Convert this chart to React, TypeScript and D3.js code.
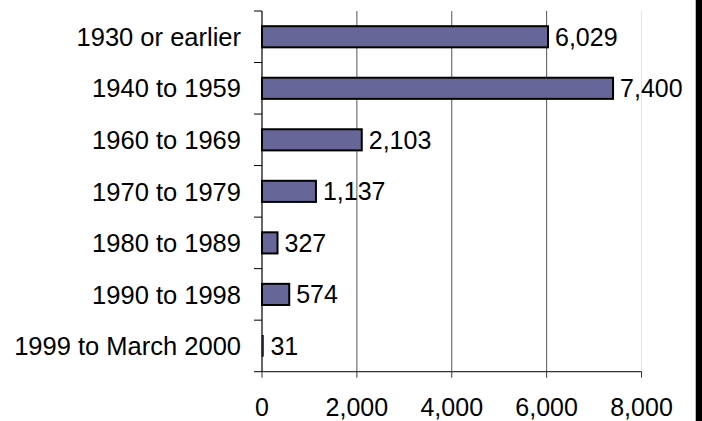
import { useEffect, useRef } from "react"
import * as d3 from "d3"

const categories = [
  "1930 or earlier",
  "1940 to 1959",
  "1960 to 1969",
  "1970 to 1979",
  "1980 to 1989",
  "1990 to 1998",
  "1999 to March 2000",
]
const values = [6029, 7400, 2103, 1137, 327, 574, 31]
const xTicks = [0, 2000, 4000, 6000, 8000]

export default function App() {
  const ref = useRef<SVGSVGElement | null>(null)

  useEffect(() => {
    document.body.style.margin = "0"
    if (!ref.current) return
    const svg = d3.select(ref.current)
    svg.selectAll("*").remove()

    const width = 702
    const height = 421
    const left = 262
    const right = 641.5
    const top = 11
    const bottom = 371.7
    const font = "'Liberation Sans', Arial, sans-serif"

    const x = d3.scaleLinear().domain([0, 8000]).range([left, right])
    const y = d3
      .scaleBand<string>()
      .domain(categories)
      .range([top, bottom])
      .paddingInner(0.59)
      .paddingOuter(0.295)

    svg.append("rect").attr("width", width).attr("height", height).attr("fill", "#fff")

    // vertical gridlines
    svg
      .selectAll("line.grid")
      .data(xTicks.slice(1))
      .enter()
      .append("line")
      .attr("class", "grid")
      .attr("x1", (d) => x(d))
      .attr("x2", (d) => x(d))
      .attr("y1", top)
      .attr("y2", bottom)
      .attr("stroke", (d) => (d === 8000 ? "#e4e4e4" : "#555"))
      .attr("stroke-width", 1)

    // bars
    svg
      .selectAll("rect.bar")
      .data(values)
      .enter()
      .append("rect")
      .attr("class", "bar")
      .attr("x", x(0))
      .attr("y", (d, i) => y(categories[i])!)
      .attr("width", (d) => x(d) - x(0))
      .attr("height", y.bandwidth())
      .attr("fill", "#666699")
      .attr("stroke", "#000")
      .attr("stroke-width", (d) => (x(d) - x(0) < 4 ? 0.6 : 2))

    // value labels
    svg
      .selectAll("text.val")
      .data(values)
      .enter()
      .append("text")
      .attr("class", "val")
      .attr("x", (d) => x(d) + 7)
      .attr("y", (d, i) => y(categories[i])! + y.bandwidth() / 2)
      .attr("dy", "0.36em")
      .attr("font-family", font)
      .attr("font-size", 25)
      .attr("fill", "#000")
      .text((d) => d3.format(",")(d))

    // y axis
    svg
      .append("line")
      .attr("x1", left)
      .attr("x2", left)
      .attr("y1", top)
      .attr("y2", bottom)
      .attr("stroke", "#000")
      .attr("stroke-width", 1.2)

    const step = y.step()
    const bounds = d3.range(categories.length + 1).map((i) => top + i * step)
    svg
      .selectAll("line.ytick")
      .data(bounds)
      .enter()
      .append("line")
      .attr("class", "ytick")
      .attr("x1", left - 8)
      .attr("x2", left)
      .attr("y1", (d) => d)
      .attr("y2", (d) => d)
      .attr("stroke", "#000")

    svg
      .selectAll("text.cat")
      .data(categories)
      .enter()
      .append("text")
      .attr("class", "cat")
      .attr("x", 241)
      .attr("y", (d) => y(d)! + y.bandwidth() / 2)
      .attr("dy", "0.36em")
      .attr("text-anchor", "end")
      .attr("font-family", font)
      .attr("font-size", 25.5)
      .attr("fill", "#000")
      .text((d) => d)

    // x axis
    svg
      .append("line")
      .attr("x1", left)
      .attr("x2", right)
      .attr("y1", bottom)
      .attr("y2", bottom)
      .attr("stroke", "#333")
      .attr("stroke-width", 1.2)

    svg
      .selectAll("line.xtick")
      .data(xTicks)
      .enter()
      .append("line")
      .attr("class", "xtick")
      .attr("x1", (d) => x(d))
      .attr("x2", (d) => x(d))
      .attr("y1", bottom)
      .attr("y2", bottom + 6)
      .attr("stroke", "#333")

    svg
      .selectAll("text.xlab")
      .data(xTicks)
      .enter()
      .append("text")
      .attr("class", "xlab")
      .attr("x", (d) => x(d))
      .attr("y", 415.5)
      .attr("text-anchor", "middle")
      .attr("font-family", font)
      .attr("font-size", 25)
      .attr("fill", "#000")
      .text((d) => d3.format(",")(d))

    // right border strip
    svg.append("rect").attr("x", 696).attr("y", 0).attr("width", 6).attr("height", height).attr("fill", "#000")
    svg
      .append("line")
      .attr("x1", 695.5)
      .attr("x2", 695.5)
      .attr("y1", 0)
      .attr("y2", height)
      .attr("stroke", "#bbb")
  }, [])

  return <svg ref={ref} width={702} height={421} style={{ display: "block" }} />
}
